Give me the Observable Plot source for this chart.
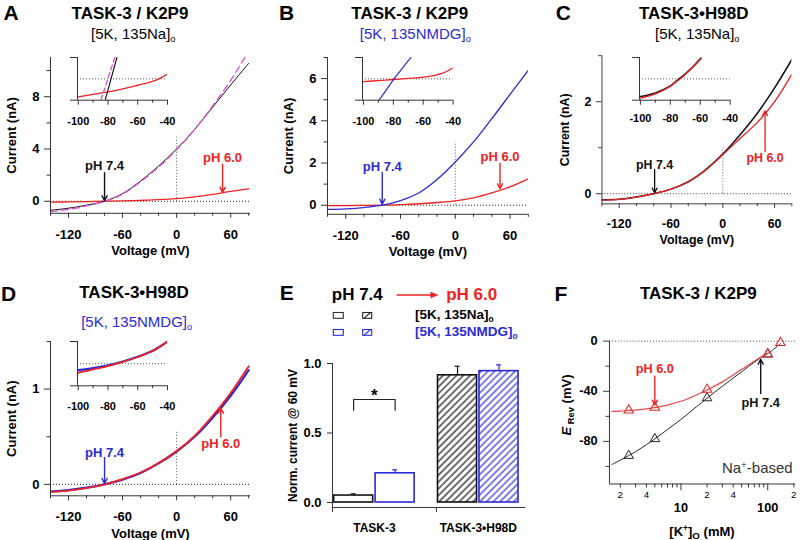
<!DOCTYPE html>
<html><head><meta charset="utf-8">
<script src="https://cdn.jsdelivr.net/npm/d3@7"></script>
<script src="https://cdn.jsdelivr.net/npm/@observablehq/plot@0.6"></script>
<style>
html,body{margin:0;padding:0;background:#fff;}
#fig{position:relative;width:805px;height:540px;overflow:hidden;background:#fff;font-family:"Liberation Sans",Arial,Helvetica,sans-serif;color:#000;}
#fig .p{position:absolute;}
#fig .t{position:absolute;white-space:nowrap;line-height:1.15;}
#fig svg{overflow:visible;}
</style></head><body><div id="fig"></div>
<script>
// ================= DATA =================
// I-V traces (current in nA) sampled on a voltage grid (mV)
const vGrid = [-140,-120,-100,-80,-60,-40,-20,0,20,40,60,80];
// A: TASK-3 / K2P9, [5K,135Na]o
const aPH74 = [-0.69,-0.53,-0.3,0,0.59,1.55,2.7,4.0,5.5,7.2,8.9,10.55];
const aFit  = [-0.8,-0.62,-0.36,0,0.55,1.5,2.62,3.95,5.5,7.3,9.25,11.5];
const aPH60 = [-0.06,-0.05,-0.03,0,0.03,0.07,0.12,0.2,0.33,0.52,0.75,0.95];
// B: TASK-3 / K2P9, [5K,135NMDG]o
const bPH74 = [-0.2,-0.17,-0.11,0,0.22,0.58,1.22,2.05,3.0,4.1,5.25,6.4];
const bPH60 = [-0.02,-0.015,-0.01,0,0.03,0.07,0.13,0.21,0.35,0.58,0.87,1.25];
// C: TASK-3•H98D, [5K,135Na]o
const cPH74 = [-0.13,-0.12,-0.07,0,0.1,0.26,0.52,0.86,1.28,1.75,2.3,2.92];
const cPH60 = [-0.14,-0.125,-0.075,0,0.1,0.26,0.51,0.85,1.2,1.55,2.0,2.6];
// D: TASK-3•H98D, [5K,135NMDG]o
const dPH74 = [-0.075,-0.06,-0.035,0,0.05,0.12,0.22,0.345,0.5,0.7,0.93,1.2];
const dPH60 = [-0.08,-0.065,-0.04,0,0.055,0.125,0.225,0.35,0.51,0.72,0.96,1.24];

// Insets (zoom around reversal, nA)
const insA_vRed = [-100,-90,-80,-70,-60,-50,-45,-40];
const insA_red  = [-0.084,-0.073,-0.061,-0.047,-0.03,-0.012,0.002,0.023];
const insA_vK   = [-81.9,-74];
const insA_k    = [-0.1,0.1];
const insA_vFit = [-84.8,-75.4];
const insA_fit  = [-0.1,0.1];
const insB_vRed = [-100,-90,-80,-70,-60,-50,-45,-40];
const insB_red  = [-0.013,-0.008,-0.003,0.002,0.008,0.02,0.032,0.052];
const insB_vBlue= [-89.5,-85,-80,-75,-70,-68.3];
const insB_blue = [-0.1,-0.055,-0.005,0.04,0.085,0.1];
const insC_v    = [-100,-90,-80,-75,-70,-65,-59.5];
const insC_k    = [-0.083,-0.066,-0.033,-0.005,0.023,0.056,0.097];
const insC_red  = [-0.09,-0.07,-0.035,-0.008,0.02,0.055,0.094];
const insD_v    = [-100,-90,-80,-70,-60,-50,-40];
const insD_blue = [-0.029,-0.02,-0.007,0.01,0.031,0.058,0.1];
const insD_red  = [-0.041,-0.026,-0.011,0.008,0.03,0.057,0.1];

// Arrow annotations (x mV, label y, arrow tail y, arrow tip y)
const annA = [{x:-80,y:2.7,yTail:2.19,yTip:0.04,text:"pH 7.4",c:"k"},{x:51,y:3.29,yTail:2.83,yTip:0.68,text:"pH 6.0",c:"r"}];
const annB = [{x:-80,y:1.83,yTail:1.55,yTip:0.05,text:"pH 7.4",c:"b"},{x:49,y:2.29,yTail:1.99,yTip:0.78,text:"pH 6.0",c:"r"}];
const annC = [{x:-79,y:0.63,yTail:0.52,yTip:0.02,text:"pH 7.4",c:"k"},{x:49,y:0.78,yTail:0.92,yTip:1.8,text:"pH 6.0",c:"r"}];
const annD = [{x:-80,y:0.336,yTail:0.283,yTip:0.01,text:"pH 7.4",c:"b"},{x:49,y:0.43,yTail:0.5,yTip:0.8,text:"pH 6.0",c:"r"}];

// E: normalized current @ 60 mV (pH 6.0 / pH 7.4)
const groups = ["TASK-3", "TASK-3•H98D"];
const solutions = ["[5K, 135Na]o", "[5K, 135NMDG]o"];
const naMean = [0.05, 0.915],  naSem = [0.012, 0.065];
const nmdgMean = [0.21, 0.945], nmdgSem = [0.025, 0.045];
const eYTicks = [0, 0.5, 1.0];

// F: reversal potential vs [K+]o
const kPts = [2.5, 5, 20, 100, 140];
const erevPH60 = [-55.1, -53, -38.6, -10.2, -1.3];
const kPts74 = [2.5, 5, 20, 100];
const erevPH74 = [-91.4, -78, -45.4, -10.5];
const fitK74 = [1.6,2,2.5,3,4,5,7,10,15,20,30,40,50,60,80,100,140];
const fitE74 = [-98.5,-95,-91.3,-88.2,-82.6,-78,-70.5,-62.5,-52.5,-45.5,-36,-29.5,-24.5,-20.3,-14,-10,-2];
const fitK60 = [1.6,2,2.5,3,4,5,7,10,15,20,30,40,50,60,80,100];
const fitE60 = [-56,-55.8,-55.3,-55,-54,-53,-51,-48,-43,-39,-32.5,-27,-22.5,-19,-13.5,-9.5];
const annF = [{x:5,y:-22.5,yTail:-28,yTip:-51,text:"pH 6.0",c:"r"},{x:83,y:-49,yTail:-41.8,yTip:-14.5,text:"pH 7.4",c:"k"}];

// ================= RENDER =================
const COL = {k:"#111111", r:"#ee2222", b:"#2b2bd4", m:"#dd4ddd"};
const AX = "#333";
const FONT = '"Liberation Sans", Arial, Helvetica, sans-serif';
const fig = document.getElementById("fig");
const fmt = d => String(d);
const blank = () => "";

function place(el, left, top) {
  const d = document.createElement("div");
  d.className = "p"; d.style.left = left + "px"; d.style.top = top + "px";
  d.appendChild(el); fig.appendChild(d); return d;
}
function framePlot(o) {
  const m = o.m;
  const W = o.frame.r - o.frame.l + m.l + m.r;
  const H = o.frame.b - o.frame.t + m.t + m.b;
  const svg = Plot.plot({
    width: W, height: H, marginLeft: m.l, marginRight: m.r, marginTop: m.t, marginBottom: m.b,
    x: o.x, y: o.y, color: {type: "identity"},
    style: {fontFamily: FONT, fontSize: "13px", fontWeight: "bold", background: "transparent", overflow: "visible", color: "#000"},
    marks: o.marks
  });
  place(svg, o.frame.l - m.l, o.frame.t - m.t);
  return svg;
}
const rowsOf = (xs, ys) => xs.map((x, i) => ({x, y: ys[i]}));
const yLabel = (s, dx, size) => Plot.text([s], {text: d => d, frameAnchor: "left", dx, rotate: -90, textAnchor: "middle", lineAnchor: "middle", fontSize: size, fontWeight: "bold"});
const xLabel = (s, dy, size) => Plot.text([s], {text: d => d, frameAnchor: "bottom", dy, textAnchor: "middle", lineAnchor: "middle", fontSize: size, fontWeight: "bold"});

function ivPanel(p) {
  const marks = [
    Plot.ruleY([0], {stroke: "#222", strokeDasharray: "1,2", strokeWidth: 1}),
    Plot.ruleX([0], {y1: 0, y2: p.vTop, stroke: "#555", strokeDasharray: "1,2", strokeWidth: 1}),
    ...p.traces.map(t => Plot.line(rowsOf(vGrid, t.vals), {x: "x", y: "y", stroke: t.color, strokeWidth: t.w, strokeDasharray: t.dash, curve: "catmull-rom", clip: true})),
    Plot.ruleX([p.xDomain[0]], {stroke: AX}),
    Plot.ruleY([p.yDomain[0]], {stroke: AX}),
    Plot.axisX({ticks: p.xMajor, tickSize: 5, tickPadding: 11, tickFormat: fmt, label: null, stroke: AX, fontSize: 13}),
    Plot.axisX({ticks: p.xMinor, tickSize: 3, tickFormat: blank, label: null, stroke: AX}),
    Plot.axisY({ticks: p.yMajor, tickSize: 6, tickPadding: 5, tickFormat: fmt, label: null, stroke: AX, fontSize: 13}),
    Plot.axisY({ticks: p.yMinor, tickSize: 3.5, tickFormat: blank, label: null, stroke: AX}),
    Plot.arrow(p.ann, {x1: "x", x2: "x", y1: "yTail", y2: "yTip", stroke: d => COL[d.c], strokeWidth: 1.4, headLength: 6, headAngle: 55}),
    Plot.text(p.ann, {x: "x", y: "y", text: "text", fill: d => COL[d.c], fontSize: 13, fontWeight: "bold"}),
    yLabel("Current (nA)", -39, 13),
    xLabel("Voltage (mV)", 38, 13)
  ];
  framePlot({frame: p.frame, m: {l: 52, r: 14, t: 16, b: 52}, x: {domain: p.xDomain}, y: {domain: p.yDomain}, marks});
}
function insetPanel(p) {
  const marks = [
    Plot.ruleY([0], {stroke: "#555", strokeDasharray: "1,2", strokeWidth: 1}),
    ...p.traces.map(t => Plot.line(rowsOf(t.v, t.i), {x: "x", y: "y", stroke: t.color, strokeWidth: t.w, strokeDasharray: t.dash, curve: "catmull-rom", clip: true})),
    Plot.ruleX([p.xDomain[0]], {stroke: AX}),
    Plot.ruleY([p.yDomain[0]], {stroke: AX}),
    Plot.axisX({ticks: [-100,-80,-60,-40], tickSize: 5, tickPadding: p.pad, tickFormat: fmt, label: null, stroke: AX, fontSize: 11}),
    Plot.axisX({ticks: [-90,-70,-50], tickSize: 3, tickFormat: blank, label: null, stroke: AX}),
    Plot.axisY({ticks: p.yDomain, tickSize: 7, tickFormat: blank, label: null, stroke: AX})
  ];
  framePlot({frame: p.frame, m: {l: 14, r: 12, t: 4, b: 30}, x: {domain: p.xDomain}, y: {domain: p.yDomain}, marks});
}

const vMajor = [-120,-60,0,60], vMinor = [-140,-100,-80,-40,-20,20,40,80];
ivPanel({frame:{l:50,r:250,t:56.5,b:212.3}, xDomain:[-140,82], yDomain:[-0.92,11], xMajor:vMajor, xMinor:vMinor,
  yMajor:[0,4,8], yMinor:[2,6,10], vTop:5, ann:annA,
  traces:[{vals:aPH60,color:COL.r,w:1.3},{vals:aPH74,color:COL.k,w:1},{vals:aFit,color:COL.m,w:1.3,dash:"7,4"}]});
ivPanel({frame:{l:327.2,r:528,t:56.6,b:213.4}, xDomain:[-140,80], yDomain:[-0.43,7], xMajor:vMajor, xMinor:vMinor,
  yMajor:[0,2,4,6], yMinor:[1,3,5,7], vTop:3, ann:annB,
  traces:[{vals:bPH60,color:COL.r,w:1.3},{vals:bPH74,color:COL.b,w:1.3}]});
ivPanel({frame:{l:604.3,r:803.9,t:56,b:211.7}, xDomain:[-140,80], yDomain:[-0.22,3], xMajor:vMajor, xMinor:vMinor,
  yMajor:[0,2], yMinor:[1,3], vTop:1, ann:annC,
  traces:[{vals:cPH74,color:COL.k,w:1.6},{vals:cPH60,color:COL.r,w:1.4}]});
ivPanel({frame:{l:50,r:250,t:340.7,b:495}, xDomain:[-140,82], yDomain:[-0.12,1.5], xMajor:vMajor, xMinor:vMinor,
  yMajor:[0,1], yMinor:[0.5,1.5], vTop:0.55, ann:annD,
  traces:[{vals:dPH74,color:COL.b,w:2.2},{vals:dPH60,color:COL.r,w:1.8}]});

insetPanel({frame:{l:76.7,r:166.7,t:57.3,b:100}, xDomain:[-100.5,-40], yDomain:[-0.1,0.1], pad:12,
  traces:[{v:insA_vRed,i:insA_red,color:COL.r,w:1.3},{v:insA_vK,i:insA_k,color:COL.k,w:1.1},{v:insA_vFit,i:insA_fit,color:COL.m,w:1.3,dash:"5,3"}]});
insetPanel({frame:{l:361.7,r:452.3,t:57.3,b:100}, xDomain:[-100.6,-40], yDomain:[-0.1,0.1], pad:12,
  traces:[{v:insB_vRed,i:insB_red,color:COL.r,w:1.3},{v:insB_vBlue,i:insB_blue,color:COL.b,w:1.2}]});
insetPanel({frame:{l:639.3,r:730,t:57.3,b:100}, xDomain:[-100.6,-40], yDomain:[-0.1,0.1], pad:9,
  traces:[{v:insC_v,i:insC_k,color:COL.k,w:1.6},{v:insC_v,i:insC_red,color:COL.r,w:1.4}]});
insetPanel({frame:{l:76.7,r:166.7,t:340.7,b:385}, xDomain:[-100.5,-40], yDomain:[-0.1,0.1], pad:11.5,
  traces:[{v:insD_v,i:insD_blue,color:COL.b,w:2.2},{v:insD_v,i:insD_red,color:COL.r,w:1.8}]});

// ---- Panel E ----
{
  const GROUP_STEP = 2.58, BAR_STEP = 1.03, BAR_PAD = 0.04, BAR_W = 0.97;
  const sCol = [COL.k, COL.b];
  const means = [naMean, nmdgMean], sems = [naSem, nmdgSem];
  const rows = [];
  groups.forEach((g, gi) => solutions.forEach((s, si) => rows.push({g, s, gi, si, mean: means[si][gi], sem: sems[si][gi]})));
  const x1 = d => d.gi * GROUP_STEP + d.si * BAR_STEP + BAR_PAD;
  const cx = d => x1(d) + BAR_W / 2;
  const yDom = [-0.036, 1.0];
  const t3 = rows.filter(d => d.gi === 0);
  const bracketTop = 0.741, bracketLeg = 0.664;
  const bracket = [
    {x: cx(t3[0]), y: bracketLeg}, {x: cx(t3[0]), y: bracketTop},
    {x: cx(t3[1]), y: bracketTop}, {x: cx(t3[1]), y: bracketLeg}
  ];
  const marks = [
    Plot.rectY(rows.filter(d => d.gi === 0), {x1, x2: d => x1(d) + BAR_W, y1: 0, y2: "mean", fill: "white", stroke: d => sCol[d.si], strokeWidth: 1.6}),
    Plot.rectY(rows.filter(d => d.gi === 1), {x1, x2: d => x1(d) + BAR_W, y1: 0, y2: "mean", fill: d => `url(#hatch${d.si})`, stroke: d => sCol[d.si], strokeWidth: 1.6}),
    Plot.ruleX(rows, {x: cx, y1: "mean", y2: d => d.mean + d.sem, stroke: d => sCol[d.si], strokeWidth: 1.2}),
    Plot.ruleY(rows, {y: d => d.mean + d.sem, x1: d => cx(d) - 0.06, x2: d => cx(d) + 0.06, stroke: d => sCol[d.si], strokeWidth: 1.2}),
    Plot.line(bracket, {x: "x", y: "y", stroke: "#222", strokeWidth: 1.2}),
    Plot.text(["*"], {text: d => d, x: (cx(t3[0]) + cx(t3[1])) / 2, y: 0.77, fontSize: 17, fontWeight: "bold"}),
    Plot.ruleX([0], {stroke: AX}),
    Plot.ruleY([yDom[0]], {stroke: AX}),
    Plot.axisY({ticks: eYTicks, tickSize: 5, tickPadding: 6, tickFormat: d3.format(".1f"), label: null, stroke: AX, fontSize: 13}),
    Plot.axisX({ticks: groups.map((g, gi) => gi * GROUP_STEP), tickSize: 5, tickFormat: blank, label: null, stroke: AX}),
    Plot.text(groups, {text: d => d, x: (d, i) => i * GROUP_STEP + BAR_PAD + (BAR_STEP + BAR_W) / 2, frameAnchor: "bottom", dy: 21, lineAnchor: "middle", fontSize: 12, fontWeight: "bold"}),
    yLabel("Norm. current @ 60 mV", -39, 12)
  ];
  const svg = framePlot({frame: {l: 331.7, r: 525, t: 363.3, b: 507.3}, m: {l: 52, r: 10, t: 16, b: 40},
    x: {domain: [0, 4.8]}, y: {domain: yDom}, marks});
  const ns = "http://www.w3.org/2000/svg";
  let defs = document.createElementNS(ns, "defs");
  svg.insertBefore(defs, svg.firstChild);
  sCol.forEach((c, si) => {
    const pat = document.createElementNS(ns, "pattern");
    const attrs = {id: `hatch${si}`, patternUnits: "userSpaceOnUse", width: 4.8, height: 4.8, patternTransform: "rotate(45)"};
    for (const k in attrs) pat.setAttribute(k, attrs[k]);
    const bg = document.createElementNS(ns, "rect");
    bg.setAttribute("width", 4.8); bg.setAttribute("height", 4.8); bg.setAttribute("fill", "white");
    const ln = document.createElementNS(ns, "line");
    ln.setAttribute("x1", 1); ln.setAttribute("y1", 0); ln.setAttribute("x2", 1); ln.setAttribute("y2", 4.8);
    ln.setAttribute("stroke", c); ln.setAttribute("stroke-width", 1.2);
    pat.append(bg, ln); defs.append(pat);
  });
}

// ---- Panel F ----
{
  const xDom = [1.5, 210], yDom = [-114, 0];
  const minorK = [2,3,4,5,6,7,8,9,20,30,40,50,60,70,80,90,200];
  const labK = [2,4,6,8,20,40,60,80,200];
  const marks = [
    Plot.ruleY([0], {stroke: "#444", strokeDasharray: "1,2", strokeWidth: 1}),
    Plot.line(rowsOf(fitK74, fitE74), {x: "x", y: "y", stroke: "#222", strokeWidth: 1, curve: "catmull-rom"}),
    Plot.line(rowsOf(fitK60, fitE60), {x: "x", y: "y", stroke: "#e84848", strokeWidth: 1.2, curve: "catmull-rom"}),
    Plot.dot(rowsOf(kPts74, erevPH74), {x: "x", y: "y", symbol: "triangle", r: 3.6, stroke: "#222", fill: "none", strokeWidth: 1}),
    Plot.dot(rowsOf(kPts, erevPH60), {x: "x", y: "y", symbol: "triangle", r: 3.6, stroke: "#e02a2a", fill: "none", strokeWidth: 1.1}),
    Plot.ruleX([xDom[0]], {stroke: AX}),
    Plot.ruleY([yDom[0]], {stroke: AX}),
    Plot.axisY({ticks: [0,-40,-80], tickSize: 6, tickPadding: 6, tickFormat: fmt, label: null, stroke: AX, fontSize: 13}),
    Plot.axisY({ticks: [-20,-60,-100], tickSize: 3.5, tickFormat: blank, label: null, stroke: AX}),
    Plot.axisX({ticks: [10,100], tickSize: 7, tickPadding: 12, tickFormat: fmt, label: null, stroke: AX, fontSize: 13}),
    Plot.axisX({ticks: minorK, tickSize: 4, tickFormat: blank, label: null, stroke: AX}),
    Plot.axisX({ticks: labK, tickSize: 0, tickPadding: 7, tickFormat: d => String(d)[0], label: null, fontSize: 10, fontWeight: "normal"}),
    Plot.arrow(annF, {x1: "x", x2: "x", y1: "yTail", y2: "yTip", stroke: d => COL[d.c], strokeWidth: 1.4, headLength: 6, headAngle: 55}),
    Plot.text(annF, {x: "x", y: "y", text: "text", fill: d => COL[d.c], fontSize: 13, fontWeight: "bold"})
  ];
  framePlot({frame: {l: 610, r: 800, t: 341, b: 486.7}, m: {l: 52, r: 10, t: 16, b: 50},
    x: {type: "log", domain: xDom}, y: {domain: yDom}, marks});
}

// ---- overlay graphics (E header arrow, E legend swatches) ----
const ov = document.createElement("div");
ov.className = "p"; ov.style.left = "0px"; ov.style.top = "0px";
ov.innerHTML = `<svg width="805" height="540" style="pointer-events:none">
 <line x1="396.7" y1="295" x2="432" y2="295" stroke="${COL.r}" stroke-width="1.4"/>
 <polygon points="438.5,295 430.5,291.8 430.5,298.2" fill="${COL.r}"/>
 <rect x="333.3" y="312.5" width="10" height="5.8" fill="white" stroke="#333" stroke-width="1.1"/>
 <rect x="362.7" y="312.5" width="9" height="5.8" fill="white" stroke="#222" stroke-width="1.1"/>
 <line x1="364" y1="318.3" x2="370.5" y2="312.5" stroke="#222" stroke-width="1.1"/>
 <rect x="333.3" y="329.5" width="10" height="5.8" fill="white" stroke="${COL.b}" stroke-width="1.1"/>
 <rect x="362.7" y="329.5" width="9" height="5.8" fill="white" stroke="${COL.b}" stroke-width="1.1"/>
 <line x1="364" y1="335.3" x2="370.5" y2="329.5" stroke="${COL.b}" stroke-width="1.1"/>
</svg>`;
fig.appendChild(ov);

// ---- HTML text (titles, letters, subtitles, rich labels) ----
const SUBO = '<span style="font-size:0.62em;position:relative;top:0.32em">o</span>';
function txt(html, x, y, o = {}) {
  const d = document.createElement("div");
  d.className = "t";
  d.innerHTML = html;
  d.style.left = x + "px"; d.style.top = y + "px";
  d.style.fontSize = (o.size || 13) + "px";
  d.style.fontWeight = o.weight || "bold";
  d.style.color = o.color || "#000";
  const ax = o.align === "left" ? "0" : o.align === "right" ? "-100%" : "-50%";
  d.style.transform = `translate(${ax},-50%)` + (o.rotate ? ` rotate(${o.rotate}deg)` : "");
  fig.appendChild(d);
  return d;
}
// panel letters
txt("A", 11, 12.5, {size: 21}); txt("B", 286.7, 12.5, {size: 21}); txt("C", 563.3, 12.5, {size: 21});
txt("D", 8.5, 294, {size: 21}); txt("E", 286.7, 293.3, {size: 21}); txt("F", 561, 293.5, {size: 21});
// titles
txt("TASK-3 / K2P9", 130, 13.5, {size: 17});
txt("TASK-3 / K2P9", 409.7, 13.5, {size: 17});
txt("TASK-3•H98D", 693.7, 13.5, {size: 17});
txt("TASK-3•H98D", 134, 293.3, {size: 17});
txt("TASK-3 / K2P9", 698.3, 294, {size: 17});
// subtitles
txt("[5K, 135Na]" + SUBO, 133.3, 34.3, {size: 15, weight: "normal"});
txt("[5K, 135NMDG]" + SUBO, 415.3, 34.3, {size: 15, weight: "normal", color: COL.b});
txt("[5K, 135Na]" + SUBO, 697.3, 34.3, {size: 15, weight: "normal"});
txt("[5K, 135NMDG]" + SUBO, 136.7, 321.7, {size: 15, weight: "normal", color: COL.b});
// E header + legend
txt("pH 7.4", 357.3, 295, {size: 17});
txt("pH 6.0", 471.7, 295, {size: 17, color: COL.r});
txt("[5K, 135Na]" + SUBO, 415, 315.3, {size: 13.5, align: "left"});
txt("[5K, 135NMDG]" + SUBO, 415, 332.3, {size: 13.5, align: "left", color: COL.b});
// F labels
txt('<i>E</i><span style="font-size:0.72em;position:relative;top:0.3em"> Rev</span> (mV)', 566.7, 405, {size: 13, rotate: -90});
txt('[K<span style="font-size:0.65em;position:relative;top:-0.55em">+</span>]<span style="font-size:0.75em;position:relative;top:0.3em">O</span> (mM)', 702, 531.7, {size: 13});
txt('Na<span style="font-size:0.65em;position:relative;top:-0.55em">+</span>-based', 792.7, 468, {size: 15, weight: "normal", color: "#333", align: "right"});
</script></body></html>
